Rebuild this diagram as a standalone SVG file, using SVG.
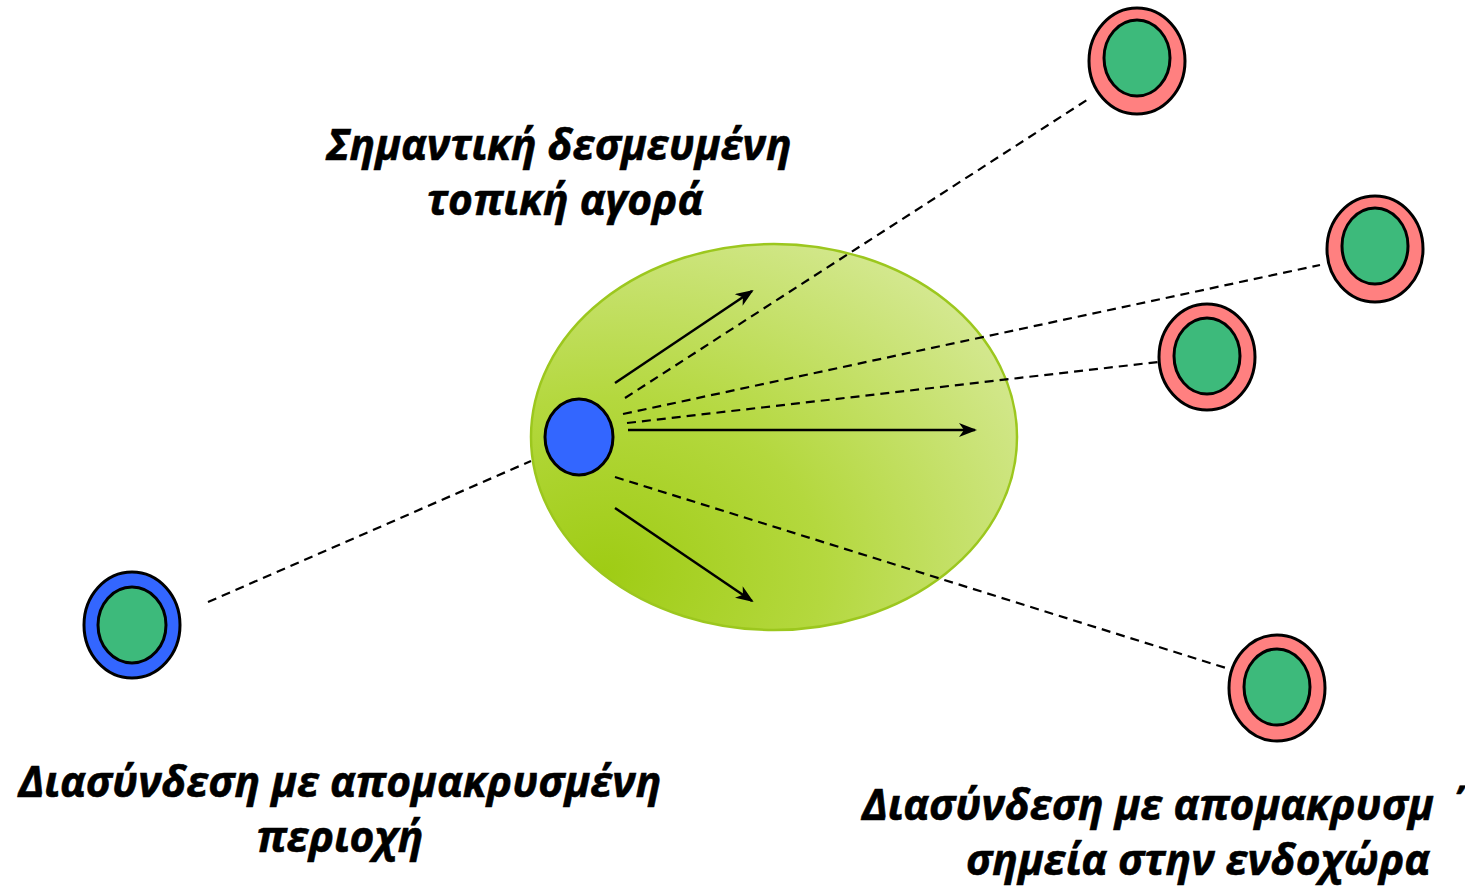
<svg xmlns="http://www.w3.org/2000/svg" width="1465" height="888" viewBox="0 0 1465 888">
<defs>
<style>
.lbl{font-family:"Open Sans","Liberation Sans",sans-serif;font-weight:bold;font-style:italic;font-size:42.5px;fill:#000;stroke:#000;stroke-width:0.6}
.ring{stroke:#000;stroke-width:3}
.red{fill:#ff8080}
.blue{fill:#3366ff}
.green{fill:#3dba7b}
.dash{stroke:#000;stroke-width:2.2;stroke-dasharray:9,6;fill:none}
.arr{stroke:#000;stroke-width:2.5;fill:none;marker-end:url(#ah)}
</style>
<radialGradient id="eg" cx="0.15" cy="0.85" r="1" fx="0.15" fy="0.85">
<stop offset="0" stop-color="#9fcc14"/>
<stop offset="0.45" stop-color="#b4d83e"/>
<stop offset="1" stop-color="#d4e890"/>
</radialGradient>
<marker id="ah" markerWidth="18" markerHeight="14" refX="16" refY="7" orient="auto" markerUnits="userSpaceOnUse">
<path d="M0,0 L18,7 L0,14 L5,7 Z" fill="#000"/>
</marker>
</defs>
<g id="market">
<ellipse cx="774" cy="437" rx="243" ry="193" fill="url(#eg)" stroke="#9cc71e" stroke-width="2.5"/>
</g>
<g id="connectors">
<line class="dash" x1="208" y1="602" x2="531" y2="461"/>
<line class="dash" x1="625" y1="398" x2="1090" y2="98"/>
<line class="dash" x1="623" y1="414" x2="1320" y2="265"/>
<line class="dash" x1="627" y1="423" x2="1158" y2="362"/>
<line class="dash" x1="615" y1="477" x2="1226" y2="668"/>
<line class="arr" x1="615" y1="383" x2="752" y2="291"/>
<line class="arr" x1="628" y1="430" x2="975" y2="430"/>
<line class="arr" x1="615" y1="508" x2="752" y2="601"/>
</g>
<g id="center-node">
<ellipse class="ring blue" cx="579" cy="437" rx="34" ry="38"/>
</g>
<g id="remote-area">
<ellipse class="ring blue" cx="132" cy="625" rx="48" ry="53"/>
<ellipse class="ring green" cx="132" cy="625" rx="34" ry="38"/>
</g>
<g id="inland-1">
<ellipse class="ring red" cx="1137" cy="61" rx="48" ry="53"/>
<ellipse class="ring green" cx="1137" cy="58" rx="33" ry="38"/>
</g>
<g id="inland-2">
<ellipse class="ring red" cx="1375" cy="249" rx="48" ry="53"/>
<ellipse class="ring green" cx="1375" cy="246" rx="33" ry="38"/>
</g>
<g id="inland-3">
<ellipse class="ring red" cx="1207" cy="357" rx="48" ry="53"/>
<ellipse class="ring green" cx="1207" cy="356" rx="33" ry="38"/>
</g>
<g id="inland-4">
<ellipse class="ring red" cx="1277" cy="688" rx="48" ry="53"/>
<ellipse class="ring green" cx="1277" cy="687" rx="33" ry="38"/>
</g>
<g id="labels">
<text class="lbl" x="559" y="160" text-anchor="middle">Σημαντική δεσμευμένη</text>
<text class="lbl" x="565" y="215" text-anchor="middle">τοπική αγορά</text>
<text class="lbl" x="340" y="797" text-anchor="middle">Διασύνδεση με απομακρυσμένη</text>
<text class="lbl" x="340" y="852" text-anchor="middle">περιοχή</text>
<text class="lbl" x="862" y="820">Διασύνδεση με απομακρυσμ ΄</text>
<text class="lbl" x="966" y="875">σημεία στην ενδοχώρα</text>
</g>
</svg>
